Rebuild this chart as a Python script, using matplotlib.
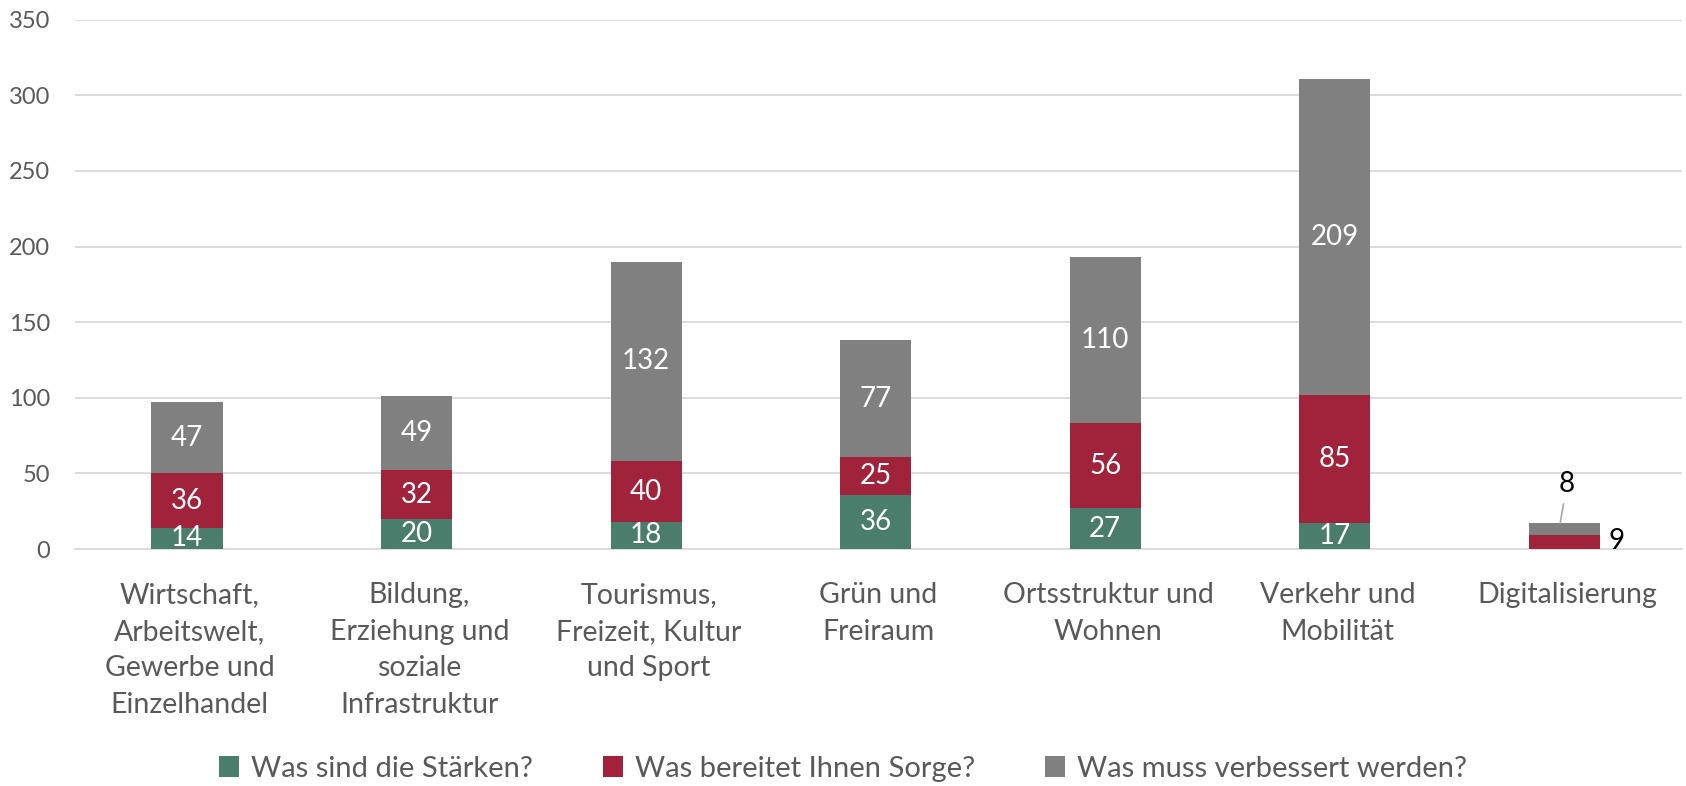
import numpy as np
import matplotlib.pyplot as plt

plt.rcParams['font.family'] = ['Lato', 'DejaVu Sans']

categories = ["Wirtschaft,\nArbeitswelt,\nGewerbe und\nEinzelhandel",
              "Bildung,\nErziehung und\nsoziale\nInfrastruktur",
              "Tourismus,\nFreizeit, Kultur\nund Sport",
              "Grün und\nFreiraum",
              "Ortsstruktur und\nWohnen",
              "Verkehr und\nMobilität",
              "Digitalisierung"]
staerken = [14, 20, 18, 36, 27, 17, 0]
sorge = [36, 32, 40, 25, 56, 85, 9]
verbessern = [47, 49, 132, 77, 110, 209, 8]
series_names = ["Was sind die Stärken?", "Was bereitet Ihnen Sorge?", "Was muss verbessert werden?"]
colors = ["#4A7D6C", "#A0233B", "#808080"]

fig = plt.figure(figsize=(16.86, 7.86), dpi=100)
ax = fig.add_axes([0.0445, 0.3015, 0.953, 0.6735])

x = np.arange(len(categories))
w = 0.31
bottom = np.zeros(len(categories))
bars = []
for vals, name, c in zip([staerken, sorge, verbessern], series_names, colors):
    b = ax.bar(x - 0.012, vals, w, bottom=bottom, color=c, label=name, zorder=3)
    bars.append(b)
    # white value labels inside the segments
    for xi, v, b0 in zip(x - 0.012, vals, bottom):
        if v >= 10:
            ax.text(xi, b0 + v / 2, str(v), ha='center', va='center',
                    color='white', fontsize=20, zorder=4)
    bottom += np.array(vals)

# small segments on the last bar get outside labels
last = len(categories) - 1
ax.text(last + 0.215, sorge[last] / 2 + 1, str(sorge[last]), ha='center', va='center',
        fontsize=20, color='black')
ax.annotate(str(verbessern[last]), xy=(last - 0.03, sorge[last] + verbessern[last]),
            xytext=(last, 43), ha='center', va='center', fontsize=20, color='black',
            arrowprops=dict(arrowstyle='-', color='#A6A6A6', lw=1.2, shrinkA=3, shrinkB=0))

ax.set_xlim(-0.5, len(categories) - 0.5)
ax.set_ylim(0, 350)
ax.set_yticks(range(0, 351, 50))
ax.yaxis.grid(True, color='#D9D9D9', lw=1.3, zorder=0)
for s in ['top', 'right', 'left']:
    ax.spines[s].set_visible(False)
ax.spines['bottom'].set_color('#D9D9D9')
ax.spines['bottom'].set_linewidth(1.3)
ax.tick_params(axis='y', length=0, labelsize=17, labelcolor='#595959', pad=18)
ax.tick_params(axis='x', length=0, labelsize=20.5, labelcolor='#595959', pad=24)
ax.set_xticks(x)
ax.set_xticklabels(categories, linespacing=1.5)

fig.legend(handles=bars, labels=series_names, loc='center', ncol=3,
           bbox_to_anchor=(0.5, 0.022), frameon=False, fontsize=21,
           handlelength=0.7, handleheight=0.7, handletextpad=0.4, columnspacing=2.4,
           labelcolor='#595959', borderpad=0)

fig.savefig('out.png', dpi=100)
